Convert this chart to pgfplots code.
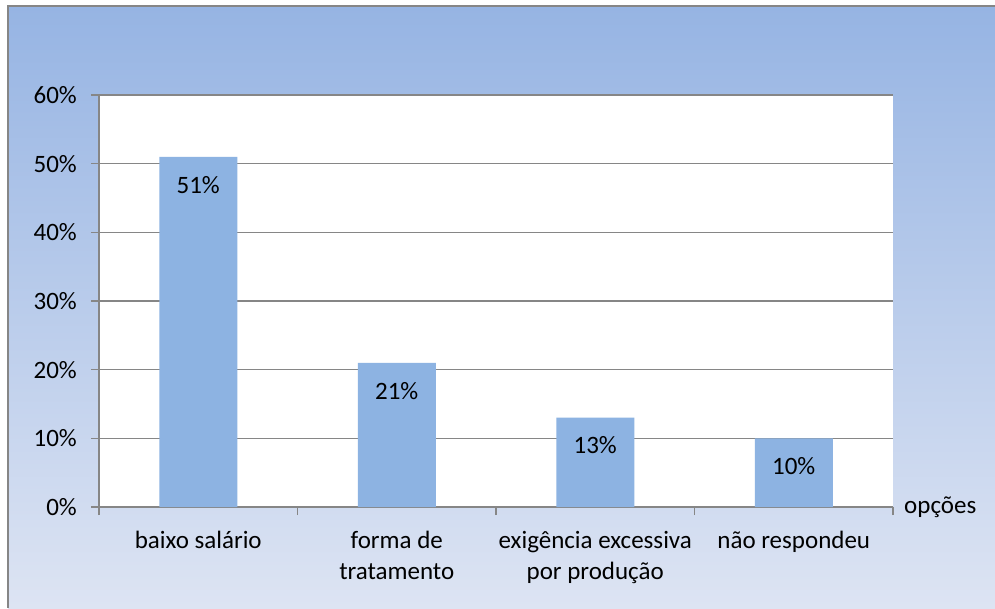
\documentclass[border=0pt]{standalone}
\usepackage{fontspec}
\setmainfont{Carlito}
\usepackage{pgfplots}
\pgfplotsset{compat=1.18}
\definecolor{barblue}{RGB}{141,179,226}
\definecolor{gridgray}{RGB}{134,134,134}
\definecolor{bgtop}{RGB}{150,180,227}
\definecolor{bgbot}{RGB}{221,228,243}
\begin{document}
\fontsize{25}{31}\selectfont
\begin{tikzpicture}[x=1pt,y=1pt]
\useasboundingbox (0,0) rectangle (995,608);
\shade[top color=bgtop, bottom color=bgbot] (8,0) rectangle (995,602);
\draw[gridgray, line width=1.5pt] (8,0) -- (8,602) -- (995,602);
\begin{axis}[
  at={(99pt,101pt)}, anchor=south west,
  width=794pt, height=412pt, scale only axis,
  axis background/.style={fill=white},
  xmin=-0.5, xmax=3.5, ymin=0, ymax=60,
  axis lines*=left,
  axis line style={gridgray, line width=1.5pt},
  xtick={-0.5,0.5,1.5,2.5,3.5},
  x tick label as interval,
  xticklabels={baixo salário, {forma de\\tratamento}, {exigência excessiva\\por produção}, não respondeu},
  xticklabel style={align=center, inner sep=0pt, yshift=-16pt},
  ytick={0,10,...,60},
  yticklabel={\pgfmathprintnumber{\tick}\%},
  yticklabel style={inner sep=0pt, xshift=-14pt},
  /pgf/number format/assume math mode=true,
  tick align=outside,
  major tick length=8pt,
  tick style={gridgray, line width=1.5pt},
  ymajorgrids,
  grid style={gridgray, line width=1.5pt},
  xlabel={opções},
  x label style={at={(axis description cs:1,0)}, anchor=west, inner sep=0pt, xshift=11pt},
  ybar, bar width=78pt,
  nodes near coords={\pgfmathprintnumber{\pgfplotspointmeta}\%},
  nodes near coords style={anchor=north, inner sep=0pt, yshift=-19pt, text=black},
  clip=false,
]
\addplot[fill=barblue, draw=none] coordinates {(0,51) (1,21) (2,13) (3,10)};
\end{axis}
\end{tikzpicture}
\end{document}
